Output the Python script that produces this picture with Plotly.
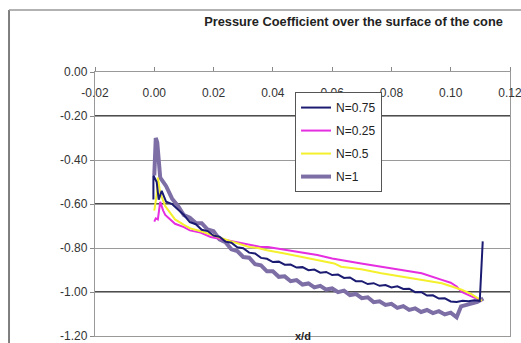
import plotly.graph_objects as go

# ---------------- data ----------------
x_n075 = [-0.0003, -0.0003, 0.0008, 0.0015, 0.0025, 0.004, 0.006, 0.008, 0.010, 0.012, 0.014, 0.016,
          0.018, 0.020, 0.022, 0.024, 0.026, 0.028, 0.030, 0.032, 0.034, 0.036, 0.038, 0.040,
          0.042, 0.044, 0.046, 0.048, 0.050, 0.052, 0.054, 0.056, 0.058, 0.060, 0.062, 0.064,
          0.066, 0.068, 0.070, 0.072, 0.074, 0.076, 0.078, 0.080, 0.082, 0.084, 0.086, 0.088,
          0.090, 0.092, 0.094, 0.096, 0.098, 0.100, 0.102, 0.104, 0.106, 0.108, 0.1098, 0.1108]
y_n075 = [-0.58, -0.47, -0.50, -0.58, -0.54, -0.59, -0.60, -0.625, -0.650, -0.682, -0.692, -0.717,
          -0.723, -0.744, -0.749, -0.771, -0.776, -0.797, -0.801, -0.821, -0.825, -0.845, -0.849, -0.864,
          -0.862, -0.876, -0.875, -0.889, -0.887, -0.901, -0.898, -0.912, -0.909, -0.923, -0.921, -0.936,
          -0.934, -0.951, -0.951, -0.964, -0.960, -0.972, -0.968, -0.979, -0.974, -0.986, -0.985, -1.001,
          -1.000, -1.016, -1.015, -1.030, -1.029, -1.043, -1.045, -1.040, -1.042, -1.038, -1.040, -0.77]

x_n025 = [0.0, 0.0005, 0.0012, 0.002, 0.003, 0.0037, 0.007, 0.010, 0.012, 0.0156, 0.019, 0.022,
          0.026, 0.030, 0.0325, 0.0358, 0.0383, 0.044, 0.0495, 0.055, 0.060, 0.065, 0.0698,
          0.0766, 0.083, 0.0902, 0.097, 0.100, 0.102, 0.1037, 0.107, 0.1105]
y_n025 = [-0.68, -0.665, -0.67, -0.59, -0.63, -0.65, -0.69, -0.705, -0.72, -0.73, -0.75, -0.758,
          -0.77, -0.778, -0.785, -0.795, -0.795, -0.808, -0.82, -0.832, -0.848, -0.858, -0.87,
          -0.885, -0.898, -0.915, -0.945, -0.958, -0.975, -1.0, -1.02, -1.04]

x_n05 = [0.0, 0.0008, 0.0012, 0.002, 0.0037, 0.007, 0.010, 0.012, 0.016, 0.019, 0.022, 0.026,
         0.029, 0.032, 0.035, 0.038, 0.044, 0.0495, 0.055, 0.0607, 0.063, 0.0698, 0.0766,
         0.083, 0.0902, 0.097, 0.1037, 0.107, 0.1105]
y_n05 = [-0.63, -0.56, -0.48, -0.55, -0.61, -0.67, -0.695, -0.71, -0.725, -0.74, -0.752, -0.77,
         -0.783, -0.795, -0.80, -0.81, -0.825, -0.84, -0.855, -0.87, -0.885, -0.897, -0.915,
         -0.93, -0.945, -0.96, -0.99, -1.01, -1.04]

x_n1 = [0.0, 0.0005, 0.001, 0.0015, 0.002, 0.004, 0.006, 0.008, 0.010, 0.012, 0.014, 0.016,
        0.018, 0.020, 0.022, 0.024, 0.026, 0.028, 0.030, 0.032, 0.034, 0.036, 0.038, 0.040,
        0.042, 0.044, 0.046, 0.048, 0.050, 0.052, 0.054, 0.056, 0.058, 0.060, 0.062, 0.064,
        0.066, 0.068, 0.070, 0.072, 0.074, 0.076, 0.078, 0.080, 0.082, 0.084, 0.086, 0.088,
        0.090, 0.092, 0.094, 0.096, 0.098, 0.100, 0.102, 0.1035, 0.105, 0.107, 0.109, 0.111]
y_n1 = [-0.47, -0.30, -0.32, -0.43, -0.48, -0.519, -0.576, -0.609, -0.651, -0.662, -0.686, -0.687,
        -0.716, -0.724, -0.761, -0.774, -0.806, -0.814, -0.841, -0.844, -0.874, -0.879, -0.906, -0.906,
        -0.931, -0.929, -0.951, -0.946, -0.966, -0.961, -0.979, -0.972, -0.989, -0.984, -1.001, -0.994,
        -1.014, -1.009, -1.028, -1.024, -1.046, -1.042, -1.059, -1.054, -1.072, -1.064, -1.081, -1.074,
        -1.091, -1.082, -1.096, -1.087, -1.102, -1.094, -1.115, -1.065, -1.06, -1.05, -1.045, -1.03]

x_ticks = [-0.02, 0.00, 0.02, 0.04, 0.06, 0.08, 0.10, 0.12]
x_tick_text = ["-0.02", "0.00", "0.02", "0.04", "0.06", "0.08", "0.10", "0.12"]
y_ticks = [0.0, -0.2, -0.4, -0.6, -0.8, -1.0, -1.2]
y_tick_text = ["0.00", "-0.20", "-0.40", "-0.60", "-0.80", "-1.00", "-1.20"]
dark_grid = [-0.2, -0.6, -1.0]

title_text = "Pressure Coefficient over the surface of the cone"
x_label = "x/d"

FONT = "Arial, 'Liberation Sans', sans-serif"

fig = go.Figure()
series = [
    ("N=1", x_n1, y_n1, "#7d6ea6", 4, 4),
    ("N=0.25", x_n025, y_n025, "#e52ee0", 2, 2),
    ("N=0.5", x_n05, y_n05, "#f4f02c", 2, 3),
    ("N=0.75", x_n075, y_n075, "#1b1b72", 2, 1),
]
for name, xs, ys, col, w, rank in series:
    fig.add_trace(go.Scatter(
        x=xs, y=ys, mode="lines", name=name,
        line=dict(color=col, width=w),
        legendrank=rank, legendgroup=name,
    ))
# overlay axis carrying the x tick labels just below the top axis line
fig.add_trace(go.Scatter(x=[None], y=[None], xaxis="x2", showlegend=False, hoverinfo="skip"))

for lv in dark_grid:
    fig.add_shape(type="line", xref="paper", yref="y", x0=0, x1=1, y0=lv, y1=lv,
                  line=dict(color="#111111", width=1.3), layer="below")

# outer chart border (left and top edges visible)
fig.add_shape(type="line", xref="paper", yref="paper", x0=-0.2072, x1=-0.2072, y0=1.2348, y1=-0.2,
              line=dict(color="#555555", width=1.5))
fig.add_shape(type="line", xref="paper", yref="paper", x0=-0.2072, x1=1.2, y0=1.2348, y1=1.2348,
              line=dict(color="#999999", width=1.5))

fig.update_layout(
    width=521, height=343,
    margin=dict(l=95, r=11, t=72, b=7, autoexpand=False),
    paper_bgcolor="white", plot_bgcolor="white",
    font=dict(family=FONT, size=12, color="#333333"),
    title=dict(text="<b>" + title_text + "</b>", xref="container", yref="container",
               x=0.6785, y=0.936, xanchor="center", yanchor="middle",
               font=dict(family=FONT, size=12.8, color="#222222")),
    xaxis=dict(range=[-0.02, 0.12], tickvals=x_ticks, side="top", showticklabels=False,
               ticks="outside", ticklen=4, tickcolor="#888888", automargin=False,
               showline=True, linecolor="#999999", linewidth=1.3, mirror=True,
               showgrid=False, zeroline=False, fixedrange=True),
    xaxis2=dict(range=[-0.02, 0.12], tickvals=x_ticks, ticktext=x_tick_text, overlaying="x",
                side="bottom", anchor="free", position=0.954, showline=False, ticks="",
                automargin=False, ticklabeloverflow="allow",
                showgrid=False, zeroline=False, tickfont=dict(size=12, color="#333333")),
    yaxis=dict(range=[-1.2, 0], tickvals=y_ticks, ticktext=y_tick_text,
               ticks="outside", ticklen=4, tickcolor="#888888", ticklabeloverflow="allow",
               automargin=False,
               showline=True, linecolor="#999999", linewidth=1.3, mirror=True,
               showgrid=True, gridcolor="#9a9a9a", gridwidth=1.3, zeroline=False,
               tickfont=dict(size=12, color="#333333")),
    legend=dict(x=0.482, y=0.924, xanchor="left", yanchor="top",
                bgcolor="white", bordercolor="#555555", borderwidth=1,
                font=dict(family=FONT, size=12, color="#222222"),
                tracegroupgap=4, traceorder="grouped"),
    showlegend=True,
    annotations=[dict(text="<b>" + x_label + "</b>", xref="paper", yref="paper",
                      x=0.5, y=0.0, xanchor="center", yanchor="middle", showarrow=False,
                      font=dict(family=FONT, size=11, color="#222222"))],
)

fig.write_html("out.html", config={"displayModeBar": False},
               post_script="document.body.style.margin='0px';")
